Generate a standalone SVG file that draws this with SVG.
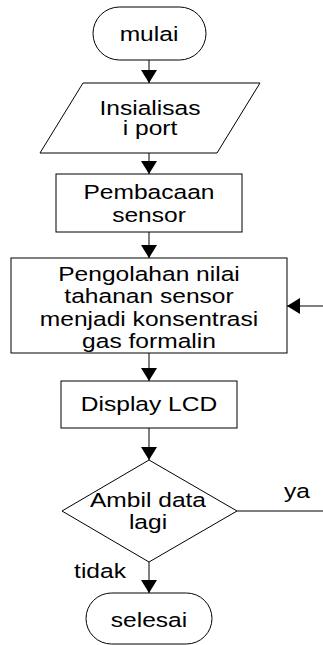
<svg xmlns="http://www.w3.org/2000/svg" width="323" height="645" viewBox="0 0 323 645">
  <style>
    .shape { fill: #ffffff; stroke: #000000; stroke-width: 1; }
    .wire { fill: none; stroke: #000000; stroke-width: 1; }
    .label { font-family: "Liberation Sans", Arial, sans-serif; font-size: 19.5px; fill: #000000; text-anchor: middle; }
  </style>
  <defs>
    <marker id="head" markerUnits="userSpaceOnUse" markerWidth="14" markerHeight="18" viewBox="0 -9 14 18" refX="13" refY="0" orient="auto">
      <path d="M0,-8 L13,0 L0,8 Z" fill="#000000"/>
    </marker>
  </defs>

  <!-- connectors -->
  <g id="connectors">
    <line class="wire" x1="149" y1="60" x2="149" y2="83" marker-end="url(#head)"/>
    <line class="wire" x1="149" y1="153" x2="149" y2="174" marker-end="url(#head)"/>
    <line class="wire" x1="149" y1="232" x2="149" y2="258" marker-end="url(#head)"/>
    <line class="wire" x1="323" y1="306" x2="287" y2="306" marker-end="url(#head)"/>
    <line class="wire" x1="149" y1="353" x2="149" y2="381" marker-end="url(#head)"/>
    <line class="wire" x1="149" y1="428" x2="149" y2="460" marker-end="url(#head)"/>
    <line class="wire" x1="237" y1="511" x2="323" y2="511"/>
    <line class="wire" x1="149" y1="562" x2="149" y2="593" marker-end="url(#head)"/>
    <text class="label" transform="translate(297,498) scale(1.26,1)">ya</text>
    <text class="label" transform="translate(100,578) scale(1.26,1)">tidak</text>
  </g>

  <g id="mulai">
    <rect class="shape" x="93" y="7" width="113" height="53" rx="26.5" ry="26.5"/>
    <text class="label" transform="translate(149,41) scale(1.26,1)">mulai</text>
  </g>

  <g id="inisialisasi">
    <polygon class="shape" points="83,83 260,83 217,153 40,153"/>
    <text class="label" transform="translate(150,115) scale(1.26,1)">Insialisas</text>
    <text class="label" transform="translate(150,135) scale(1.26,1)">i port</text>
  </g>

  <g id="pembacaan">
    <rect class="shape" x="56" y="174" width="186" height="58"/>
    <text class="label" transform="translate(149,199) scale(1.26,1)">Pembacaan</text>
    <text class="label" transform="translate(149,222) scale(1.26,1)">sensor</text>
  </g>

  <g id="pengolahan">
    <rect class="shape" x="11" y="258" width="276" height="95"/>
    <text class="label" transform="translate(149,281) scale(1.26,1)">Pengolahan nilai</text>
    <text class="label" transform="translate(149,303) scale(1.26,1)">tahanan sensor</text>
    <text class="label" transform="translate(149,326) scale(1.26,1)">menjadi konsentrasi</text>
    <text class="label" transform="translate(149,348) scale(1.26,1)">gas formalin</text>
  </g>

  <g id="display">
    <rect class="shape" x="61" y="381" width="176" height="47"/>
    <text class="label" transform="translate(149,411) scale(1.26,1)">Display LCD</text>
  </g>

  <g id="keputusan">
    <polygon class="shape" points="149,460 237,511 149,562 62,511"/>
    <text class="label" transform="translate(148,507) scale(1.26,1)">Ambil data</text>
    <text class="label" transform="translate(148,529) scale(1.26,1)">lagi</text>
  </g>

  <g id="selesai">
    <rect class="shape" x="86" y="593" width="126" height="51" rx="25.5" ry="25.5"/>
    <text class="label" transform="translate(149,627) scale(1.26,1)">selesai</text>
  </g>
</svg>
